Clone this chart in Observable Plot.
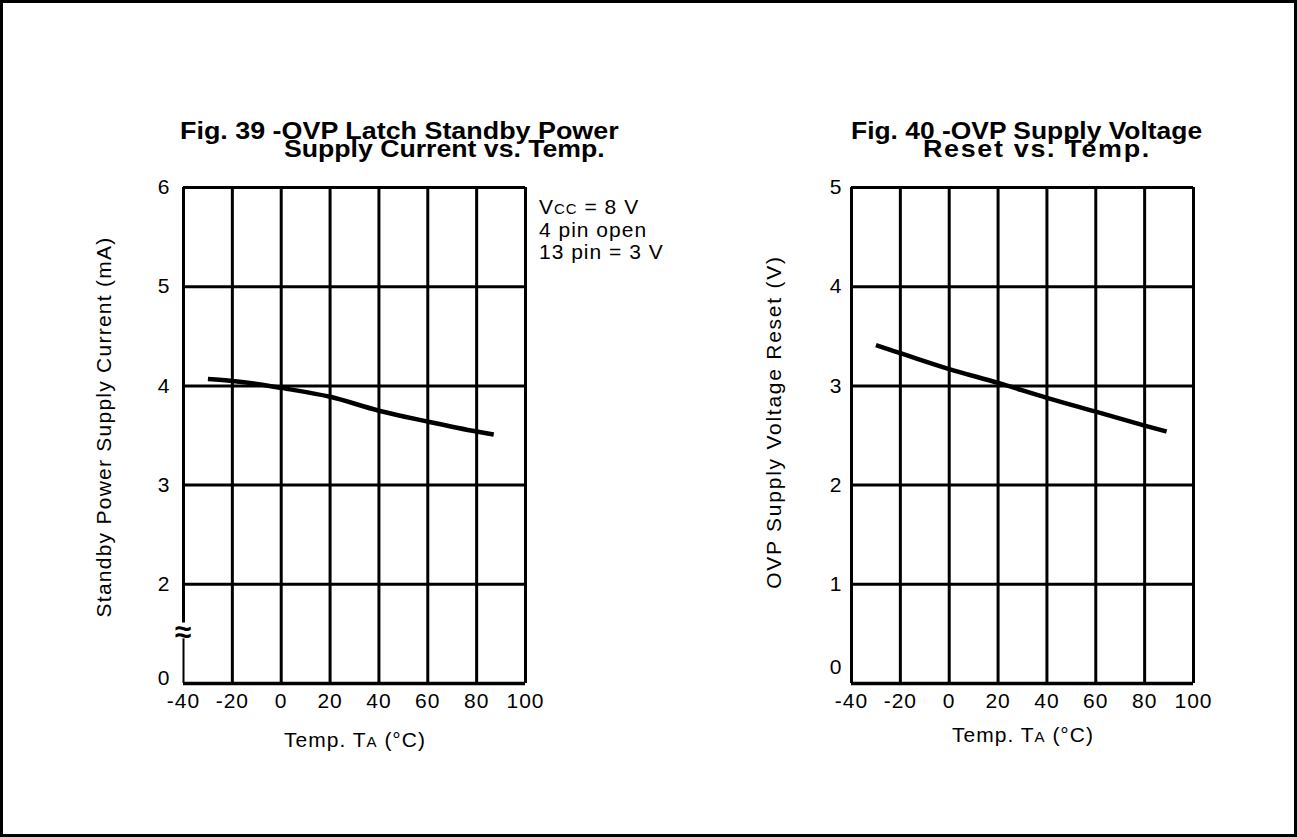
<!DOCTYPE html>
<html><head><meta charset="utf-8">
<script src="https://cdn.jsdelivr.net/npm/d3@7"></script>
<script src="https://cdn.jsdelivr.net/npm/@observablehq/plot@0.6"></script>
<style>
body{margin:0;background:#fff;font-family:"Liberation Sans",Arial,sans-serif;color:#000;}
#page{position:relative;width:1297px;height:837px;overflow:hidden;background:#fff;}
#border{position:absolute;left:0;top:0;width:1297px;height:837px;box-sizing:border-box;border:3px solid #000;pointer-events:none;}
.t{position:absolute;white-space:nowrap;line-height:21px;font-size:21px;}
.b{font-weight:bold;font-size:24px;line-height:24px;transform-origin:0 50%;}
.r{letter-spacing:1px;}
.sc{font-size:15px;}
.chart{position:absolute;}
</style></head>
<body><div id="page">
<div id="c39" class="chart" style="left:60px;top:150px;"></div>
<div id="c40" class="chart" style="left:730px;top:150px;"></div>
<div class="t b" style="left:180px;top:118.7px;transform:scaleX(1.12);">Fig. 39 -OVP Latch Standby Power</div>
<div class="t b" style="left:284px;top:137.2px;transform:scaleX(1.11);">Supply Current vs. Temp.</div>
<div class="t b" style="left:851px;top:119.2px;transform:scaleX(1.1);">Fig. 40 -OVP Supply Voltage</div>
<div class="t b" style="left:923px;top:137.2px;transform:scaleX(1.12);letter-spacing:1.5px;">Reset vs. Temp.</div>
<div class="t r" style="left:539px;top:195.5px;">V<span class="sc">CC</span> = 8 V</div>
<div class="t r" style="left:539px;top:219px;">4 pin open</div>
<div class="t r" style="left:539px;top:241px;">13 pin = 3 V</div>
<div class="t r" style="left:355px;top:729px;transform:translateX(-50%);">Temp. T<span class="sc">A</span> (°C)</div>
<div class="t r" style="left:1023px;top:724px;transform:translateX(-50%);">Temp. T<span class="sc">A</span> (°C)</div>
<div class="t" style="left:103px;top:427px;letter-spacing:1.25px;transform:translate(-50%,-50%) rotate(-90deg);">Standby Power Supply Current (mA)</div>
<div class="t" style="left:773px;top:422px;letter-spacing:1.75px;transform:translate(-50%,-50%) rotate(-90deg);">OVP Supply Voltage Reset (V)</div>
<div id="border"></div>
</div>
<script>
// ---- data ----
const tempTicks = [-40, -20, 0, 20, 40, 60, 80, 100];
// Fig. 39: broken y axis; the value 1 stands for the "0" position below the break
const curTicks = [2, 3, 4, 5, 6];
const curZeroTick = [1];
const curTickLabel = {1: "0", 2: "2", 3: "3", 4: "4", 5: "5", 6: "6"};
const temp39 = [-30, -20, -10, 0, 20, 40, 60, 80, 87];
const cur39  = [4.07, 4.05, 4.02, 3.98, 3.89, 3.75, 3.64, 3.54, 3.51];
// Fig. 40
const volTicks = [1, 2, 3, 4, 5];
const volZeroTick = [0];
const temp40 = [-30, -20, 0, 20, 40, 60, 80, 89];
const vol40  = [3.41, 3.33, 3.17, 3.03, 2.88, 2.74, 2.60, 2.54];
const breakMark = [{x: -40, y: 1.52, s: "\u2248"}];

const W = 520, H = 620;
const baseStyle = {fontFamily: "Liberation Sans, Arial, sans-serif", fontSize: "21px", letterSpacing: "1px", color: "#000", background: "transparent", overflow: "visible"};
const fmt = d => String(d);

const d39 = temp39.map((t, i) => ({t, v: cur39[i]}));
const d40 = temp40.map((t, i) => ({t, v: vol40[i]}));

const p39 = Plot.plot({
  width: W, height: H, marginLeft: 123, marginRight: 55, marginTop: 37, marginBottom: 87,
  style: baseStyle,
  x: {domain: [-40, 100], label: null},
  y: {domain: [1, 6], label: null},
  marks: [
    Plot.axisX(tempTicks, {tickSize: 0, tickPadding: 10, label: null, tickFormat: fmt}),
    Plot.axisY(curTicks, {tickSize: 0, tickPadding: 13, label: null, tickFormat: d => curTickLabel[d]}),
    Plot.axisY(curZeroTick, {tickSize: 0, tickPadding: 13, label: null, dy: -5, tickFormat: d => curTickLabel[d]}),
    Plot.ruleX(tempTicks.slice(1), {stroke: "#000", strokeWidth: 3, y1: 1, y2: 6}),
    Plot.ruleX([-40], {stroke: "#000", strokeWidth: 3, y1: 1.61, y2: 6}),
    Plot.ruleX([-40], {stroke: "#000", strokeWidth: 2, y1: 1, y2: 1.45}),
    Plot.ruleY(curTicks, {stroke: "#000", strokeWidth: 3, x1: -40, x2: 100}),
    Plot.ruleY(curZeroTick, {stroke: "#000", strokeWidth: 3.5, x1: -40, x2: 100}),
    Plot.text(breakMark, {x: "x", y: "y", text: "s", fontSize: 30, fontWeight: "bold", fill: "#000"}),
    Plot.line(d39, {x: "t", y: "v", stroke: "#000", strokeWidth: 4.5, curve: "monotone-x", strokeLinecap: "butt"})
  ]
});
document.getElementById("c39").appendChild(p39);

const p40 = Plot.plot({
  width: W, height: H, marginLeft: 121, marginRight: 57, marginTop: 37, marginBottom: 87,
  style: baseStyle,
  x: {domain: [-40, 100], label: null},
  y: {domain: [0, 5], label: null},
  marks: [
    Plot.axisX(tempTicks, {tickSize: 0, tickPadding: 10, label: null, tickFormat: fmt}),
    Plot.axisY(volTicks, {tickSize: 0, tickPadding: 9, label: null, tickFormat: fmt}),
    Plot.axisY(volZeroTick, {tickSize: 0, tickPadding: 9, label: null, dy: -16, tickFormat: fmt}),
    Plot.ruleX(tempTicks, {stroke: "#000", strokeWidth: 3, y1: 0, y2: 5}),
    Plot.ruleY(volTicks, {stroke: "#000", strokeWidth: 3, x1: -40, x2: 100}),
    Plot.ruleY(volZeroTick, {stroke: "#000", strokeWidth: 3.5, x1: -40, x2: 100}),
    Plot.line(d40, {x: "t", y: "v", stroke: "#000", strokeWidth: 4.5, curve: "monotone-x", strokeLinecap: "butt"})
  ]
});
document.getElementById("c40").appendChild(p40);
</script>
</body></html>
